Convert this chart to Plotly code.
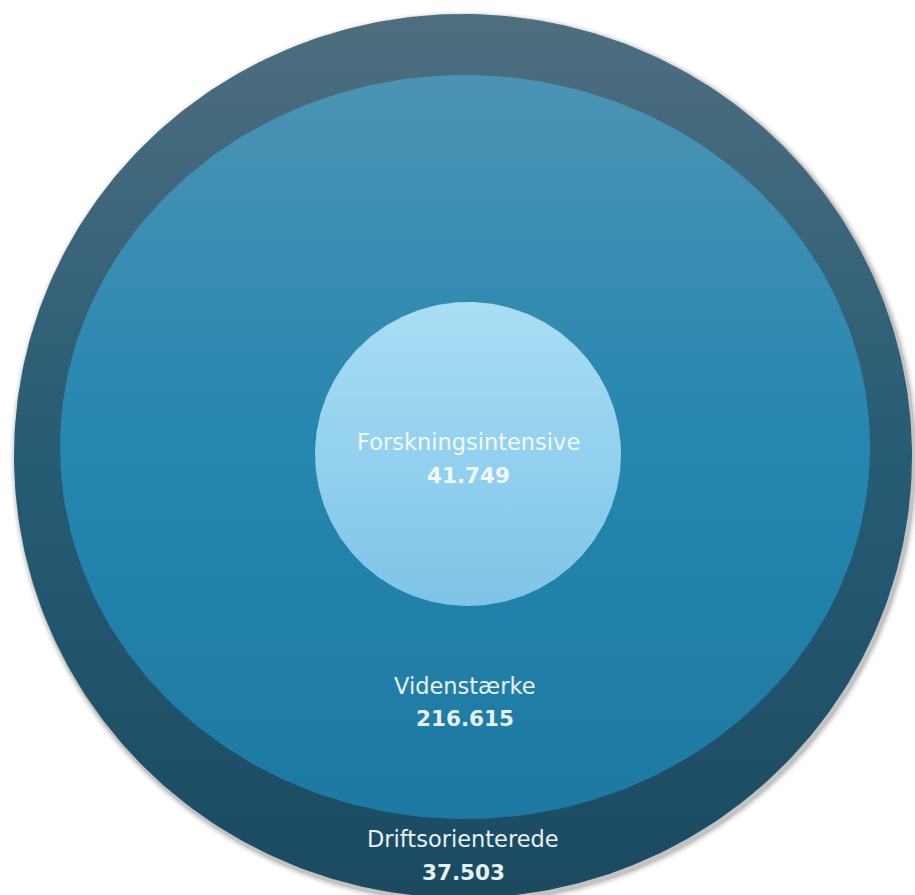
import numpy as np
import plotly.graph_objects as go

# ---- data ----
categories = ["Driftsorienterede", "Videnstærke", "Forskningsintensive"]
values = [37503, 216615, 41749]

W, H = 915, 895

def fmt(v):
    return f"{v:,}".replace(",", ".")

# geometry in pixel space (top-left origin): cx, cy, rx, ry
geom = {
    "Driftsorienterede": (463, 456, 449, 442),
    "Videnstærke": (465, 447, 405, 372),
    "Forskningsintensive": (468, 454, 153, 152),
}
grad = {
    "Driftsorienterede": [[0, "#1b4a61"], [0.5, "#265c74"], [1, "#4f6e7f"]],
    "Videnstærke": [[0, "#1d79a2"], [0.5, "#2586af"], [1, "#4b93b4"]],
    "Forskningsintensive": [[0, "#7ec4e7"], [1, "#a9def5"]],
}
label_pos = {
    "Driftsorienterede": (839, 872),
    "Videnstærke": (686, 718),
    "Forskningsintensive": (442, 475),
}
label_color = {
    "Driftsorienterede": "#e6f1f6",
    "Videnstærke": "#e6f1f6",
    "Forskningsintensive": "#f2f9fd",
}

FONT = "DejaVu Sans"

t = np.linspace(0, 2 * np.pi, 361)
fig = go.Figure()

# soft shadow behind the outer circle
cx, cy, rx, ry = geom["Driftsorienterede"]
for k, op in [(6, 0.06), (4, 0.1), (2, 0.18)]:
    fig.add_trace(go.Scatter(
        x=cx + 2 + (rx + k) * np.cos(t), y=H - (cy + 3 + (ry + k) * np.sin(t)),
        mode="lines", fill="toself", line=dict(width=0),
        fillcolor=f"rgba(60,60,60,{op})", hoverinfo="skip"))

for cat, val in zip(categories, values):
    cx, cy, rx, ry = geom[cat]
    xs = cx + rx * np.cos(t)
    ys = H - (cy + ry * np.sin(t))
    fig.add_trace(go.Scatter(
        x=xs, y=ys, mode="lines", fill="toself", line=dict(width=0),
        fillgradient=dict(type="vertical", colorscale=grad[cat],
                          start=H - (cy + ry), stop=H - (cy - ry)),
        name=cat, hoverinfo="skip"))
    y1, y2 = label_pos[cat]
    fig.add_annotation(x=cx, y=H - y1, text=cat, showarrow=False,
                       font=dict(family=FONT, size=22.5, color=label_color[cat]),
                       xanchor="center", yanchor="middle")
    fig.add_annotation(x=cx, y=H - y2, text=f"<b>{fmt(val)}</b>", showarrow=False,
                       font=dict(family=FONT, size=21.5, color=label_color[cat]),
                       xanchor="center", yanchor="middle")

fig.update_layout(
    width=W, height=H, margin=dict(l=0, r=0, t=0, b=0),
    paper_bgcolor="white", plot_bgcolor="white", showlegend=False,
    xaxis=dict(range=[0, W], visible=False, fixedrange=True),
    yaxis=dict(range=[0, H], visible=False, fixedrange=True),
)
fig.write_html(
    "out.html",
    config={"displayModeBar": False},
    post_script="document.body.style.margin='0';document.body.style.overflow='hidden';",
)
